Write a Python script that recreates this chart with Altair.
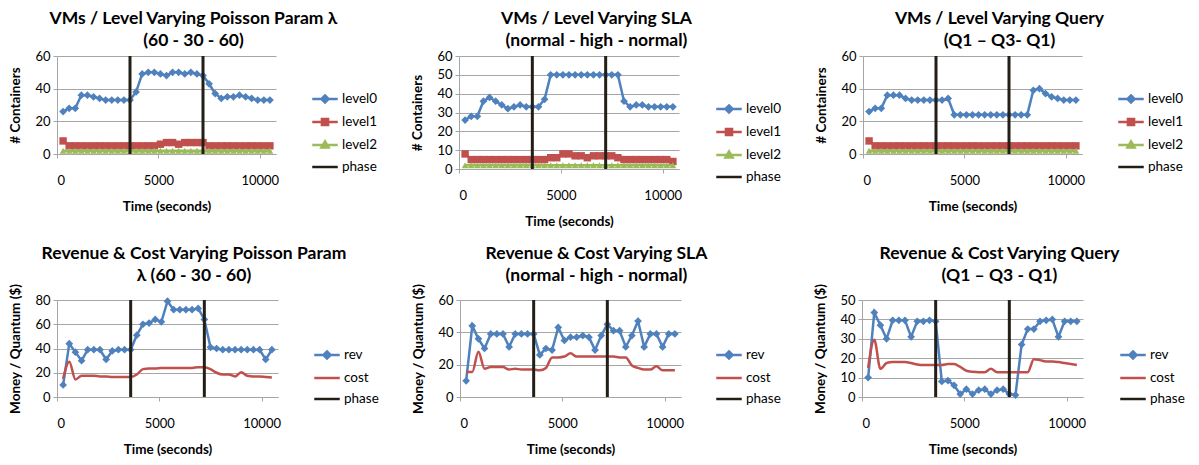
import altair as alt
import pandas as pd

# ---------------- data ----------------
times = [300, 600, 900, 1200, 1500, 1800, 2100, 2400, 2700, 3000, 3300, 3600,
         3900, 4200, 4500, 4800, 5100, 5400, 5700, 6000, 6300, 6600, 6900, 7200,
         7500, 7800, 8100, 8400, 8700, 9000, 9300, 9600, 9900, 10200, 10500]
phase_times = [3600, 7200]
x_ticks = [0, 5000, 10000]

# VMs / Level, Poisson
p1_level0 = [26, 28, 28, 36, 36, 35, 34, 33, 33, 33, 33, 33, 38, 49, 50, 50, 49, 48,
             50, 50, 49, 50, 49, 48, 43, 37, 34, 35, 35, 36, 35, 34, 33, 33, 33]
p1_level1 = [8, 5, 5, 5, 5, 5, 5, 5, 5, 5, 5, 5, 5, 5, 5, 5, 6, 7,
             7, 6, 7, 7, 7, 7, 5, 5, 5, 5, 5, 5, 5, 5, 5, 5, 5]
p1_level2 = [2, 2, 2, 2, 2, 2, 2, 2, 2, 2, 2, 2, 2, 2, 2, 2, 2, 2,
             2, 2, 2, 2, 2, 2, 2, 2, 2, 2, 2, 2, 2, 2, 2, 2, 2]
# VMs / Level, SLA
p2_level0 = [26, 28, 28, 36, 38, 36, 34, 32, 33, 34, 33, 33, 33, 37, 50, 50, 50, 50,
             50, 50, 50, 50, 50, 50, 50, 50, 36, 33, 34, 34, 33, 33, 33, 33, 33]
p2_level1 = [8, 5, 5, 5, 5, 5, 5, 5, 5, 5, 5, 5, 5, 5, 6, 6, 8, 8,
             7, 7, 6, 7, 7, 7, 7, 6, 5, 5, 5, 5, 5, 5, 5, 5, 4]
p2_level2 = [2, 2, 2, 2, 2, 2, 2, 2, 2, 2, 2, 2, 2, 2, 2, 2, 2, 2,
             2, 2, 2, 2, 2, 2, 2, 2, 2, 2, 2, 2, 2, 2, 2, 2, 2]
# VMs / Level, Query
p3_level0 = [26, 28, 28, 36, 36, 36, 34, 33, 33, 33, 33, 33, 33, 34, 24, 24, 24, 24,
             24, 24, 24, 24, 24, 24, 24, 24, 24, 39, 40, 37, 35, 34, 33, 33, 33]
p3_level1 = [8, 5, 5, 5, 5, 5, 5, 5, 5, 5, 5, 5, 5, 5, 5, 5, 5, 5,
             5, 5, 5, 5, 5, 5, 5, 5, 5, 5, 5, 5, 5, 5, 5, 5, 5]
p3_level2 = [2, 2, 2, 2, 2, 2, 2, 2, 2, 2, 2, 2, 2, 2, 2, 2, 2, 2,
             2, 2, 2, 2, 2, 2, 2, 2, 2, 2, 2, 2, 2, 2, 2, 2, 2]
# Revenue & Cost, Poisson
p4_rev = [10, 44, 37, 30, 39, 39, 39, 31, 38, 39, 39, 39, 51, 60, 61, 64, 62, 79,
          72, 72, 72, 72, 73, 64, 41, 40, 39, 39, 39, 39, 39, 39, 39, 31, 39]
p4_cost = [15, 29, 14.5, 17.5, 17.5, 17.5, 17, 17, 16.5, 16.5, 16.5, 16.5, 18.5, 23,
           23.5, 23.5, 24, 24, 24, 24, 24, 24, 24.5, 24.5, 23, 20, 18.5, 18.5, 17,
           20.5, 17.5, 17, 17, 16.5, 16]
# Revenue & Cost, SLA
p5_rev = [10, 44, 36, 30, 39, 39, 39, 31, 39, 39, 39, 39, 26, 30, 29, 43, 35, 37,
          37, 38, 37, 29, 38, 45, 41, 41, 31, 38, 47, 31, 39, 39, 31, 39, 39]
p5_cost = [15.5, 15.5, 28, 17.5, 18.5, 18.5, 18.5, 17, 17.5, 17, 17, 17, 16.5, 18,
           24.5, 24.5, 25, 27, 25, 25, 25, 25, 25, 25, 25, 24.5, 24.5, 19.5, 18, 17,
           17, 19, 16.5, 16.5, 16.5]
# Revenue & Cost, Query
p6_rev = [10, 43.5, 37, 30, 39.5, 39.5, 39.5, 31, 39, 39, 39.5, 39, 8, 8.5, 6, 1.5,
          4, 1.5, 3.5, 4, 1.5, 3.5, 4, 1.5, 1, 27, 35, 35, 39, 39.5, 40, 31, 39, 39, 39]
p6_cost = [15, 29.5, 14.5, 17.5, 18, 18, 18, 17.5, 16.8, 16.5, 16.5, 16.5, 16.5, 17,
           17, 15.5, 13.5, 13, 12.8, 12.8, 14.5, 12.8, 12.8, 12.8, 12.8, 12.8, 12.8,
           19.5, 19, 18.3, 18.3, 18, 17.5, 17, 16.5]

# ---------------- style ----------------
BLUE = "#4F81BD"
RED = "#C0504D"
GREEN = "#9BBB59"
PHASE = "#231F17"
GRID = "#A6A6A6"
FONT = "Lato"

PATH_DIAMOND = "M-1,0L1,0M0,-0.28L0.28,0L0,0.28L-0.28,0Z"
PATH_SQUARE = "M-1,0L1,0M-0.24,-0.24L0.24,-0.24L0.24,0.24L-0.24,0.24Z"
PATH_TRI = "M-1,0L1,0M0,-0.28L0.28,0.2L-0.28,0.2Z"
PATH_LINE = "M-1,0L1,0"


def make_panel(title, series, y_domain, y_ticks, y_title, width, height, leg_x, leg_y, toff):
    x_enc = alt.X("t:Q", scale=alt.Scale(domain=[0, 10800], nice=False, zero=False),
                  axis=alt.Axis(values=x_ticks, format="d", title="Time (seconds)", grid=False))
    y_enc = alt.Y("v:Q", scale=alt.Scale(domain=y_domain, nice=False),
                  axis=alt.Axis(values=y_ticks, title=y_title, grid=True))
    layers = []
    names, colors, paths = [], [], []
    for name, vals, color, marker, msize, smooth, lpath in series:
        df = pd.DataFrame({"t": times, "v": vals})
        base = alt.Chart(df)
        layers.append(base.mark_line(color=color, strokeWidth=2.5,
                                     interpolate="monotone" if smooth else "linear")
                      .encode(x=x_enc, y=y_enc))
        if marker:
            layers.append(base.mark_point(shape=marker, filled=True, size=msize,
                                          color=color, opacity=1)
                          .encode(x=x_enc, y=y_enc))
        names.append(name)
        colors.append(color)
        paths.append(lpath)
    names.append("phase")
    colors.append(PHASE)
    paths.append(PATH_LINE)
    ph = pd.DataFrame({"t": phase_times})
    layers.append(alt.Chart(ph).mark_rule(color=PHASE, strokeWidth=3).encode(x=x_enc))

    leg = alt.Legend(title=None, orient="none", legendX=leg_x, legendY=leg_y,
                     symbolSize=650, symbolStrokeWidth=2.5, labelFont=FONT,
                     labelFontSize=13.5, labelColor="black", rowPadding=0,
                     labelOffset=3)
    ldf = pd.DataFrame({"series": names, "t": [None] * len(names), "v": [None] * len(names)})
    layers.append(alt.Chart(ldf).mark_point(filled=True, opacity=1).encode(
        x=x_enc, y=y_enc,
        fill=alt.Fill("series:N", scale=alt.Scale(domain=names, range=colors), legend=leg),
        stroke=alt.Stroke("series:N", scale=alt.Scale(domain=names, range=colors), legend=leg),
        shape=alt.Shape("series:N", scale=alt.Scale(domain=names, range=paths), legend=leg),
    ))
    return alt.layer(*layers).properties(
        width=width, height=height,
        title=alt.TitleParams(text=title, offset=toff),
    )


def vm_series(l0, l1, l2):
    return [
        ("level0", l0, BLUE, "diamond", 60, False, PATH_DIAMOND),
        ("level1", l1, RED, "square", 55, False, PATH_SQUARE),
        ("level2", l2, GREEN, "triangle-up", 45, False, PATH_TRI),
    ]


def rc_series(rev, cost):
    return [
        ("rev", rev, BLUE, "diamond", 60, False, PATH_DIAMOND),
        ("cost", cost, RED, None, 0, True, PATH_LINE),
    ]


c1 = make_panel(["VMs / Level Varying Poisson Param λ", "(60 - 30 - 60)"],
                vm_series(p1_level0, p1_level1, p1_level2), [0, 60], [0, 20, 40, 60],
                "# Containers", 219, 98, 254, 29, 1)
c2 = make_panel(["VMs / Level Varying SLA", "(normal - high - normal)"],
                vm_series(p2_level0, p2_level1, p2_level2), [0, 60],
                [0, 10, 20, 30, 40, 50, 60], "# Containers", 220, 113, 256, 39, 1)
c3 = make_panel(["VMs / Level Varying Query", "(Q1 – Q3- Q1)"],
                vm_series(p3_level0, p3_level1, p3_level2), [0, 60], [0, 20, 40, 60],
                "# Containers", 219, 98, 254, 29, 1)
c4 = make_panel(["Revenue & Cost Varying Poisson Param", "λ (60 - 30 - 60)"],
                rc_series(p4_rev, p4_cost), [0, 80], [0, 20, 40, 60, 80],
                "Money / Quantum ($)", 221, 97, 256, 41, -1)
c5 = make_panel(["Revenue & Cost Varying SLA", "(normal - high - normal)"],
                rc_series(p5_rev, p5_cost), [0, 60], [0, 20, 40, 60],
                "Money / Quantum ($)", 221, 97, 255, 41, -1)
c6 = make_panel(["Revenue & Cost Varying Query", "(Q1 – Q3 - Q1)"],
                rc_series(p6_rev, p6_cost), [0, 50], [0, 10, 20, 30, 40, 50],
                "Money / Quantum ($)", 221, 97, 257, 41, -1)

RES = dict(x="independent", y="independent", fill="independent",
           stroke="independent", shape="independent")
LRES = dict(fill="independent", stroke="independent", shape="independent")

top = alt.hconcat(c1, c2, c3, spacing=32).resolve_scale(**RES).resolve_legend(**LRES)
bottom = alt.hconcat(c4, c5, c6, spacing=32).resolve_scale(**RES).resolve_legend(**LRES)

chart = alt.vconcat(top, bottom, spacing=16).resolve_scale(**RES).resolve_legend(**LRES)

chart = chart.properties(
    padding={"top": 1, "left": 0, "right": 0, "bottom": 0}
).configure_view(stroke=None).configure_axis(
    labelFont=FONT, labelFontSize=13, labelColor="black",
    titleFont=FONT, titleFontSize=13.5, titleFontWeight="bold", titleColor="black",
    gridColor=GRID, gridWidth=1, domainColor=GRID, tickColor=GRID, tickSize=4,
).configure_axisX(labelPadding=16, titlePadding=12).configure_axisY(
    labelPadding=3, titlePadding=12
).configure_title(
    font=FONT, fontSize=17.5, fontWeight="bold", color="black", anchor="middle",
    frame="bounds", lineHeight=22,
)

chart.save("out.html", embed_options={"renderer": "svg", "actions": False})
